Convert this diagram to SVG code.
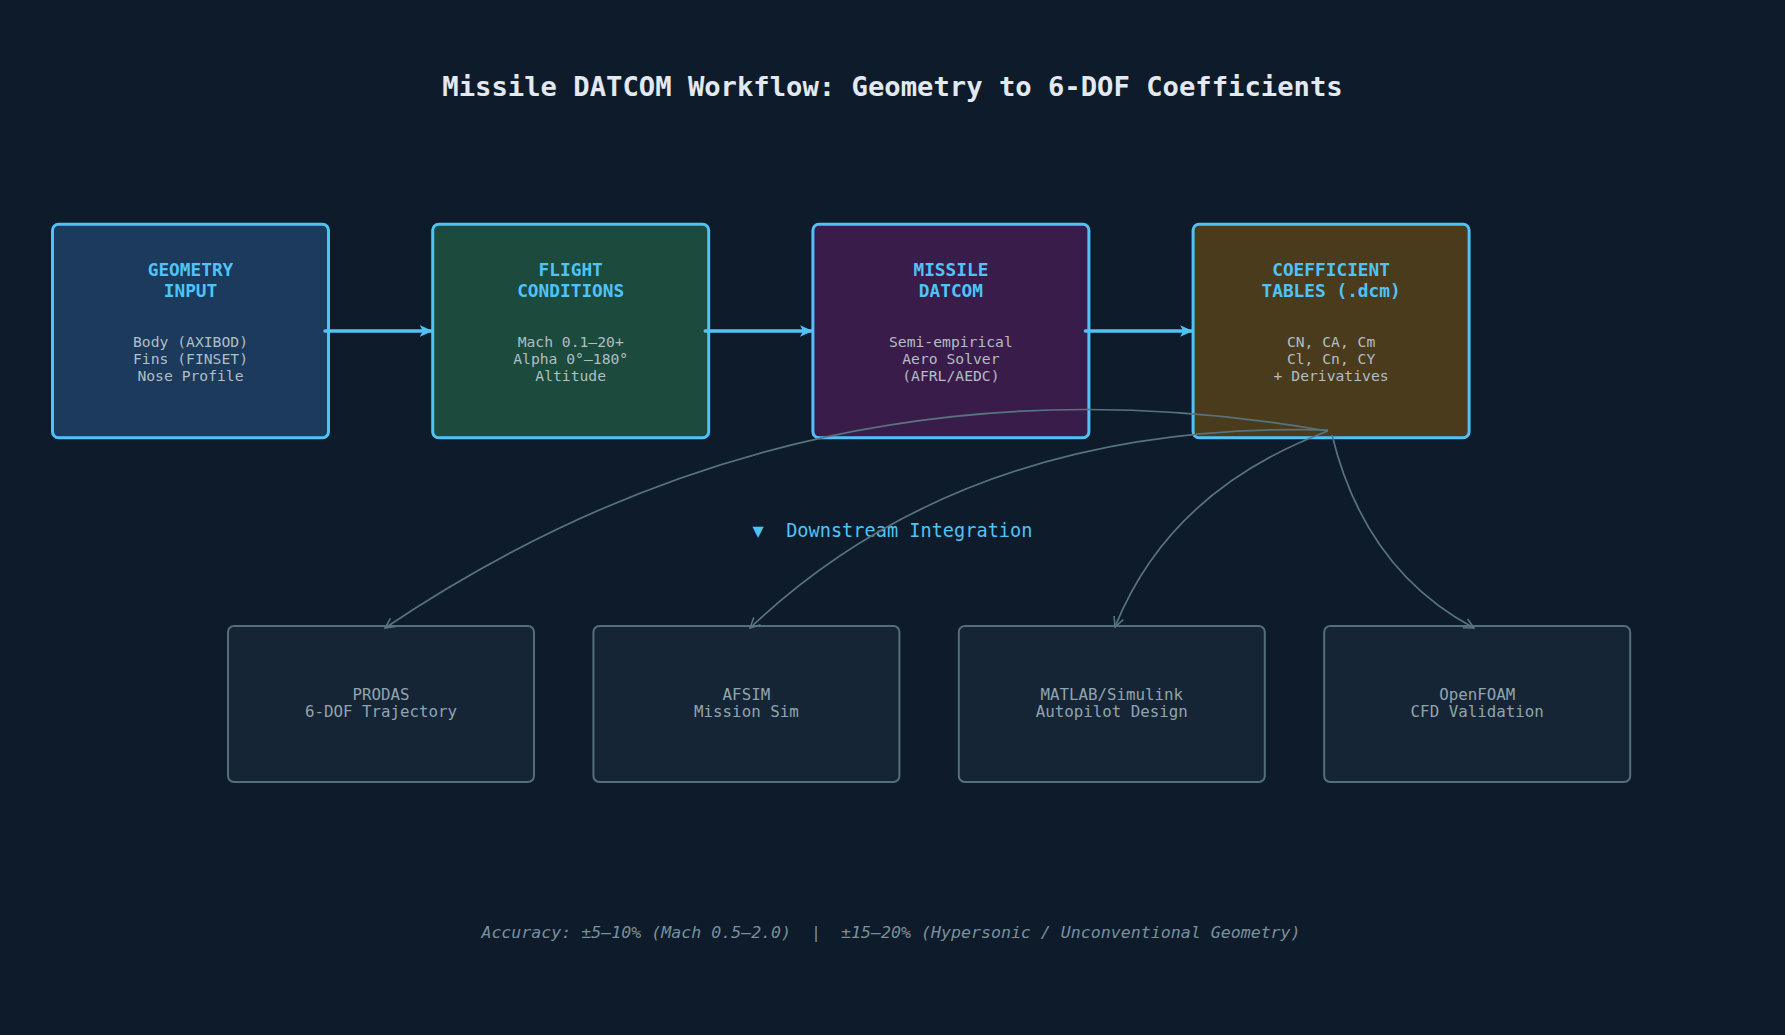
<svg xmlns="http://www.w3.org/2000/svg" width="1785" height="1035" viewBox="0 0 1785 1035">
  <defs>
    <style>
      text { font-family: "DejaVu Sans Mono", "Liberation Mono", monospace; text-anchor: middle; white-space: pre; }
      .title { font-size: 27.2px; font-weight: bold; fill: #e3e9f0; }
      .main { stroke: #4fc3f7; stroke-width: 3; }
      .ntitle { font-size: 17.8px; font-weight: bold; fill: #4fc3f7; }
      .nbody { font-size: 14.7px; fill: #b0bec5; }
      .sub { fill: #162536; stroke: #546e7a; stroke-width: 2; }
      .stext { font-size: 15.8px; fill: #90a4ae; }
      .flow { fill: none; stroke: #4fc3f7; stroke-width: 3.4; stroke-linecap: round; }
      .curve { fill: none; stroke: #587380; stroke-width: 1.7; }
      .section { font-size: 18.6px; fill: #4fc3f7; }
      .footer { font-size: 16.6px; font-style: italic; fill: #78909c; }
    </style>
    <marker id="arrowMain" viewBox="0 0 10 10" refX="9.5" refY="5" markerWidth="3.8" markerHeight="3.8" orient="auto" markerUnits="strokeWidth">
      <path d="M0,0.5 L10,5 L0,9.5 L2.5,5 Z" fill="#4fc3f7"/>
    </marker>
    <marker id="arrowSub" viewBox="0 0 12 12" refX="11" refY="6" markerWidth="7" markerHeight="7" orient="auto" markerUnits="strokeWidth">
      <path d="M1,1 L11,6 L1,11" fill="none" stroke="#587380" stroke-width="1.6"/>
    </marker>
  </defs>

  <rect x="0" y="0" width="1785" height="1035" fill="#0e1b2a"/>

  <text class="title" x="892.5" y="96">Missile DATCOM Workflow: Geometry to 6-DOF Coefficients</text>

  <g id="node-geometry">
    <rect class="main" x="52.5" y="224.2" width="276" height="213.6" rx="6" fill="#1b3a5c"/>
    <text class="ntitle" x="190.5" y="276">GEOMETRY</text>
    <text class="ntitle" x="190.5" y="297">INPUT</text>
    <text class="nbody" x="190.5" y="347">Body (AXIBOD)</text>
    <text class="nbody" x="190.5" y="364">Fins (FINSET)</text>
    <text class="nbody" x="190.5" y="381">Nose Profile</text>
  </g>

  <g id="node-flight">
    <rect class="main" x="432.7" y="224.2" width="276" height="213.6" rx="6" fill="#1c4a3d"/>
    <text class="ntitle" x="570.7" y="276">FLIGHT</text>
    <text class="ntitle" x="570.7" y="297">CONDITIONS</text>
    <text class="nbody" x="570.7" y="347">Mach 0.1–20+</text>
    <text class="nbody" x="570.7" y="364">Alpha 0°–180°</text>
    <text class="nbody" x="570.7" y="381">Altitude</text>
  </g>

  <g id="node-datcom">
    <rect class="main" x="812.9" y="224.2" width="276" height="213.6" rx="6" fill="#3a1c4b"/>
    <text class="ntitle" x="950.9" y="276">MISSILE</text>
    <text class="ntitle" x="950.9" y="297">DATCOM</text>
    <text class="nbody" x="950.9" y="347">Semi-empirical</text>
    <text class="nbody" x="950.9" y="364">Aero Solver</text>
    <text class="nbody" x="950.9" y="381">(AFRL/AEDC)</text>
  </g>

  <g id="node-coefficients">
    <rect class="main" x="1193.1" y="224.2" width="276" height="213.6" rx="6" fill="#4a3b1c"/>
    <text class="ntitle" x="1331.1" y="276">COEFFICIENT</text>
    <text class="ntitle" x="1331.1" y="297">TABLES (.dcm)</text>
    <text class="nbody" x="1331.1" y="347">CN, CA, Cm</text>
    <text class="nbody" x="1331.1" y="364">Cl, Cn, CY</text>
    <text class="nbody" x="1331.1" y="381">+ Derivatives</text>
  </g>

  <text class="section" x="892.5" y="537" xml:space="preserve">▼  Downstream Integration</text>

  <g id="node-prodas">
    <rect class="sub" x="228" y="626" width="306" height="156" rx="6"/>
    <text class="stext" x="381" y="700">PRODAS</text>
    <text class="stext" x="381" y="717">6-DOF Trajectory</text>
  </g>

  <g id="node-afsim">
    <rect class="sub" x="593.4" y="626" width="306" height="156" rx="6"/>
    <text class="stext" x="746.4" y="700">AFSIM</text>
    <text class="stext" x="746.4" y="717">Mission Sim</text>
  </g>

  <g id="node-matlab">
    <rect class="sub" x="958.8" y="626" width="306" height="156" rx="6"/>
    <text class="stext" x="1111.8" y="700">MATLAB/Simulink</text>
    <text class="stext" x="1111.8" y="717">Autopilot Design</text>
  </g>

  <g id="node-openfoam">
    <rect class="sub" x="1324.2" y="626" width="306" height="156" rx="6"/>
    <text class="stext" x="1477.2" y="700">OpenFOAM</text>
    <text class="stext" x="1477.2" y="717">CFD Validation</text>
  </g>

  <g id="connectors">
    <line class="flow" x1="325" y1="331" x2="432" y2="331" marker-end="url(#arrowMain)"/>
    <line class="flow" x1="705.2" y1="331" x2="812.2" y2="331" marker-end="url(#arrowMain)"/>
    <line class="flow" x1="1085.4" y1="331" x2="1192.4" y2="331" marker-end="url(#arrowMain)"/>
    <path class="curve" d="M1328,431 Q811,341 385,628" marker-end="url(#arrowSub)"/>
    <path class="curve" d="M1328,430 Q968,421 750,628" marker-end="url(#arrowSub)"/>
    <path class="curve" d="M1328,431 Q1170,490 1115,627" marker-end="url(#arrowSub)"/>
    <path class="curve" d="M1332,435 Q1365,570 1474,628" marker-end="url(#arrowSub)"/>
  </g>

  <text class="footer" x="891" y="938" xml:space="preserve">Accuracy: ±5–10% (Mach 0.5–2.0)  |  ±15–20% (Hypersonic / Unconventional Geometry)</text>
</svg>
